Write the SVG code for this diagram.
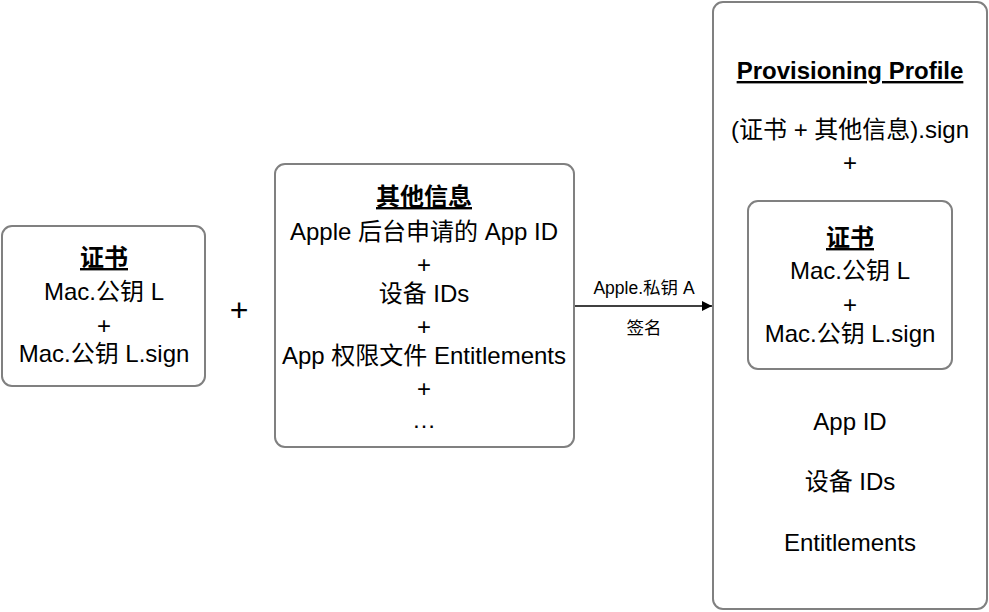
<svg xmlns="http://www.w3.org/2000/svg" width="989" height="612" viewBox="0 0 989 612">
<style>
.box{fill:#fff;stroke:#808080;stroke-width:2}
text{font-family:"Liberation Sans","Noto Sans CJK SC",sans-serif;fill:#000;text-anchor:middle}
.t{font-size:24px}
.b{font-size:24px;font-weight:bold;text-decoration:underline}
.s{font-size:17.5px}
.p{font-size:32px}
</style>
<defs>
<marker id="arr" viewBox="0 0 10 10" refX="10" refY="5" markerWidth="10" markerHeight="10" markerUnits="userSpaceOnUse" orient="auto">
<path d="M0,0 L10,5 L0,10 Z" fill="#000"/>
</marker>
</defs>
<rect width="989" height="612" fill="#fff"/>
<g id="cert">
<rect class="box" x="2" y="226" width="203" height="160" rx="10"/>
<text class="b" x="104" y="266">证书</text>
<text class="t" x="104" y="300">Mac.公钥 L</text>
<text class="t" x="104" y="334">+</text>
<text class="t" x="104" y="362">Mac.公钥 L.sign</text>
</g>
<g id="plus">
<text class="p" x="239" y="321">+</text>
</g>
<g id="other">
<rect class="box" x="275" y="164" width="299" height="283" rx="10"/>
<text class="b" x="424" y="205">其他信息</text>
<text class="t" x="424" y="240">Apple 后台申请的 App ID</text>
<text class="t" x="424" y="273">+</text>
<text class="t" x="424" y="302">设备 IDs</text>
<text class="t" x="424" y="335">+</text>
<text class="t" x="424" y="364">App 权限文件 Entitlements</text>
<text class="t" x="424" y="397">+</text>
<text class="t" x="424" y="428">…</text>
</g>
<g id="connectors">
<line x1="575" y1="306" x2="712" y2="306" stroke="#000" stroke-width="1.5" marker-end="url(#arr)"/>
<text class="s" x="644" y="294">Apple.私钥 A</text>
<text class="s" x="644" y="334">签名</text>
</g>
<g id="profile">
<rect class="box" x="713" y="2" width="274" height="607" rx="10"/>
<text class="b" x="850" y="79">Provisioning Profile</text>
<text class="t" x="850" y="138">(证书 + 其他信息).sign</text>
<text class="t" x="850" y="171">+</text>
<text class="t" x="850" y="430">App ID</text>
<text class="t" x="850" y="490">设备 IDs</text>
<text class="t" x="850" y="551">Entitlements</text>
</g>
<g id="cert-inner">
<rect class="box" x="748" y="201" width="204" height="168" rx="10"/>
<text class="b" x="850" y="246">证书</text>
<text class="t" x="850" y="279">Mac.公钥 L</text>
<text class="t" x="850" y="313">+</text>
<text class="t" x="850" y="342">Mac.公钥 L.sign</text>
</g>
</svg>
